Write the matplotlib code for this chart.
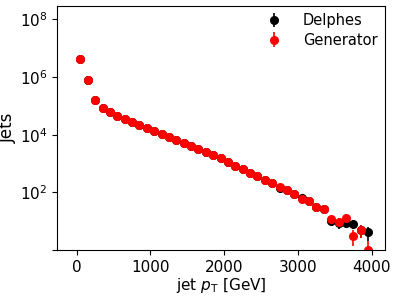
import numpy as np
import matplotlib
matplotlib.use("Agg")
import matplotlib.pyplot as plt
from matplotlib.ticker import FixedLocator, NullLocator

# бины по 100 ГэВ, центры 50..3950
pt_centers = np.arange(50, 4000, 100)

generator = [4.2e6, 7.7e5, 1.6e5, 8.2e4, 6.0e4, 4.4e4, 3.5e4, 2.7e4, 2.2e4, 1.7e4,
             1.35e4, 1.05e4, 8.3e3, 6.5e3, 5.3e3, 4.2e3, 3.1e3, 2.45e3, 2.0e3, 1.5e3,
             1130, 840, 645, 480, 370, 275, 210, 150, 123, 86,
             57, 51, 31, 26, 12.2, 9.5, 12.9, 3.1, 4.9, 1.0]
delphes = [4.2e6, 7.7e5, 1.6e5, 8.2e4, 6.0e4, 4.4e4, 3.5e4, 2.7e4, 2.2e4, 1.7e4,
           1.35e4, 1.05e4, 8.3e3, 6.5e3, 5.3e3, 4.2e3, 3.1e3, 2.45e3, 2.0e3, 1.5e3,
           1130, 840, 645, 480, 370, 265, 210, 145, 123, 86,
           65, 51, 31, 26, 10.4, 8.5, 8.9, 8.0, 4.9, 4.1]

y_ticks = [1, 1e2, 1e4, 1e6, 1e8]
y_ticklabels = ["", r"$10^2$", r"$10^4$", r"$10^6$", r"$10^8$"]

delphes = np.array(delphes)
generator = np.array(generator)

fig = plt.figure(figsize=(3.99, 2.97), dpi=100)
ax = fig.add_axes([0.1436, 0.158, 0.8214, 0.822])

ax.errorbar(pt_centers, delphes, yerr=np.sqrt(delphes), fmt='o', color='black',
            ms=5.5, lw=1.2, label='Delphes')
ax.errorbar(pt_centers, generator, yerr=np.sqrt(generator), fmt='o', color='red',
            ms=5.5, lw=1.2, label='Generator')

ax.set_yscale('log')
ax.set_xlim(-263, 4180)
ax.set_ylim(1, 2.9e8)
ax.yaxis.set_major_locator(FixedLocator(y_ticks))
ax.set_yticklabels(y_ticklabels)
ax.yaxis.set_minor_locator(NullLocator())
ax.set_xticks([0, 1000, 2000, 3000, 4000])
ax.tick_params(labelsize=11)

ax.set_xlabel(r'jet $p_{\mathrm{T}}$ [GeV]', fontsize=11, labelpad=1)
ax.set_ylabel('Jets', fontsize=12, labelpad=2)
ax.legend(loc='upper right', frameon=False, fontsize=10.5, handletextpad=1.0,
          labelspacing=0.3, borderaxespad=0.1)

fig.savefig('out.png', dpi=100)
